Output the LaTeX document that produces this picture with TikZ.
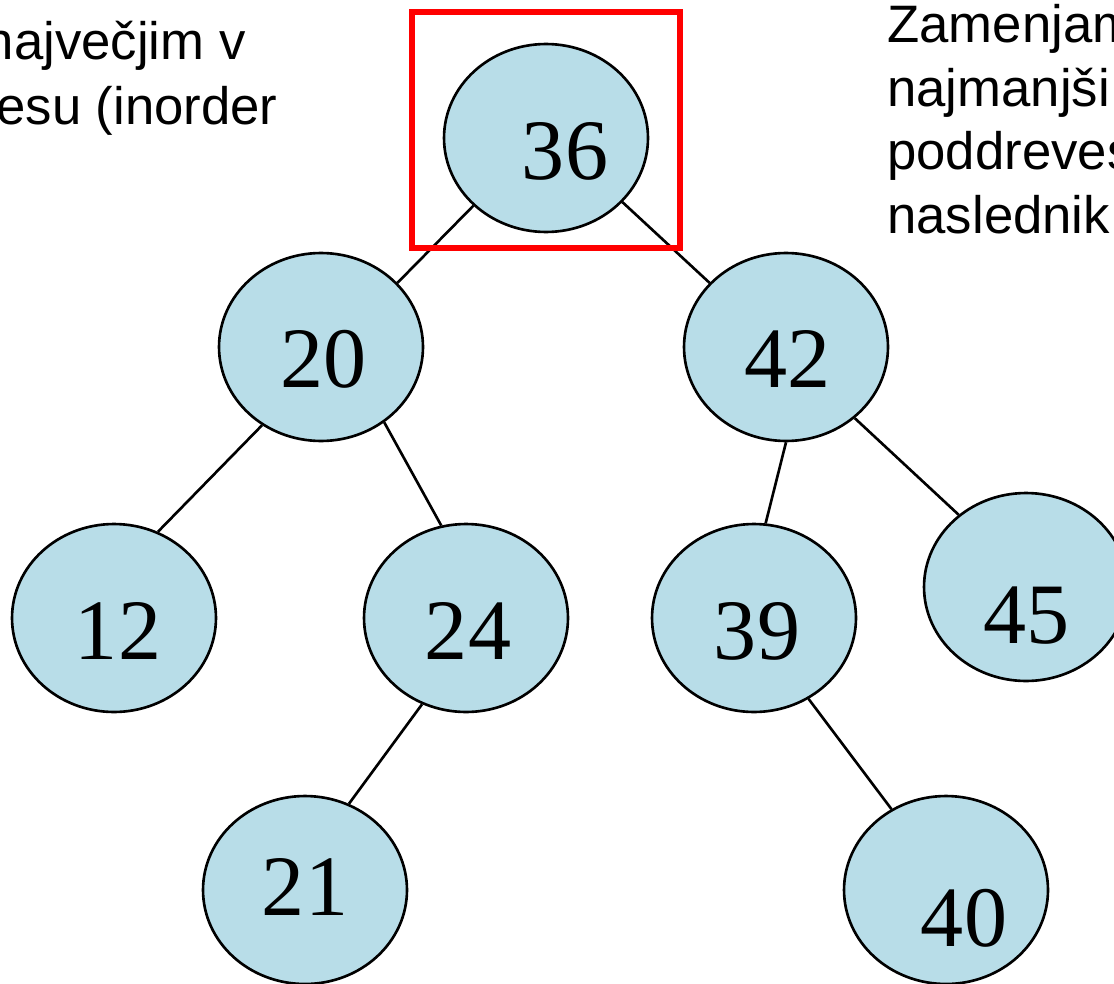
\documentclass[tikz,border=0pt]{standalone}
\usepackage{fontspec}
\setmainfont{Liberation Serif}
\newfontfamily\notefont{Liberation Sans}
\usetikzlibrary{shapes.geometric}

\definecolor{nodeblue}{RGB}{184,221,232}

\begin{document}
\begin{tikzpicture}[
    x=0.02cm, y=-0.02cm,
    vertex/.style={draw, ellipse, line width=1.5pt, fill=nodeblue, minimum width=4.08cm, minimum height=3.76cm, inner sep=0pt},
    num/.style={font=\fontsize{49}{56}\selectfont, inner sep=0pt},
    note/.style={font=\notefont\fontsize{30}{36}\selectfont, inner sep=0pt},
    edge/.style={line width=1.5pt},
    mark box/.style={draw=red, line width=3.1pt},
]
    \useasboundingbox (0,0) rectangle (1114,983);
    \clip (0,0) rectangle (1114,983);

    % tree
    \node [vertex, label={[num, xshift=0.38cm, yshift=-0.26cm]center:36}] (n36) at (546,138) {};
    \node [vertex, label={[num, xshift=0.05cm, yshift=-0.24cm]center:20}] (n20) at (321,347) {};
    \node [vertex, label={[num, xshift=0.03cm, yshift=-0.24cm]center:42}] (n42) at (786,347) {};
    \node [vertex, label={[num, xshift=0.08cm, yshift=-0.25cm]center:12}] (n12) at (114,618) {};
    \node [vertex, label={[num, xshift=0.04cm, yshift=-0.25cm]center:24}] (n24) at (466,618) {};
    \node [vertex, label={[num, xshift=0.06cm, yshift=-0.27cm]center:39}] (n39) at (754,618) {};
    \node [vertex, label={[num, xshift=0.01cm, yshift=-0.58cm]center:45}] (n45) at (1026,587) {};
    \node [vertex, label={[num, xshift=0.00cm, yshift=0.06cm]center:21}] (n21) at (305,890) {};
    \node [vertex, label={[num, xshift=0.36cm, yshift=-0.57cm]center:40}] (n40) at (946,890) {};

    \draw [edge] (n36.223) -- (n20.40);
    \draw [edge] (n36.320) -- (n42.140);
    \draw [edge] (n20.233) -- (n12.63);
    \draw [edge] (n20.310) -- (n24.105);
    \draw [edge] (n24.243) -- (n21.63);
    \draw [edge] (n42.270) -- (n39.83);
    \draw [edge] (n42.314) -- (n45.133);
    \draw [edge] (n39.304) -- (n40.124);

    % root to be replaced
    \coordinate (boxA) at (412,12);
    \coordinate (boxB) at (680,248);
    \draw [mark box] (boxA) rectangle (boxB);

    % notes beside the tree
    \node [note, anchor=base east] (left1) at (246,60) {največjim v};
    \node [note, anchor=base east] (left2) at (278,125) {esu (inorder};
    \foreach \txt [count=\i from 0] in {Zamenjam, najmanjši, poddreves, naslednik}
        \node [note, anchor=base west] (right\i) at (887,43+63.5*\i) {\txt};
\end{tikzpicture}
\end{document}
